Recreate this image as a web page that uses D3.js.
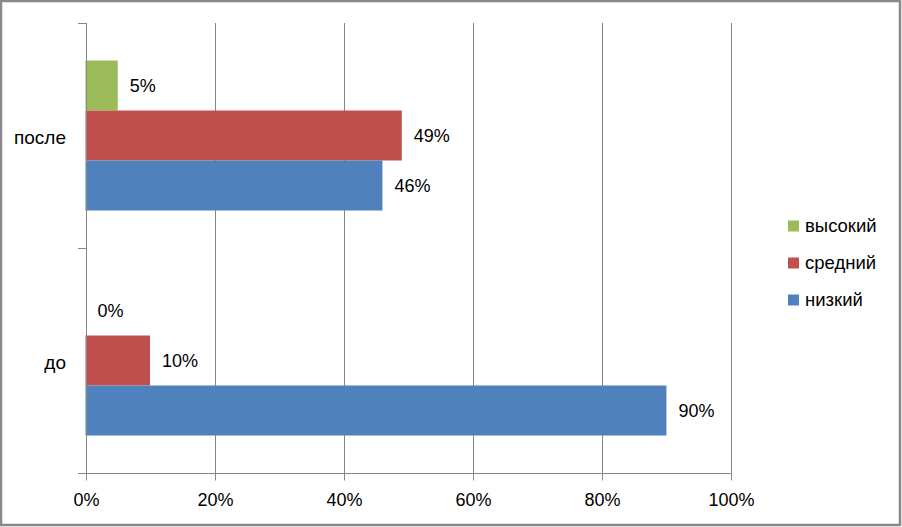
<!DOCTYPE html>
<html>
<head>
<meta charset="utf-8">
<script src="https://cdn.jsdelivr.net/npm/d3@7"></script>
<style>
  html, body { margin: 0; padding: 0; background: #fff; }
  svg { display: block; }
  text { font-family: "Liberation Sans", Arial, sans-serif; fill: #000; }
</style>
</head>
<body>
<svg id="chart" width="902" height="527"></svg>
<script>
const categories = ["после", "до"];
const seriesNames = ["высокий", "средний", "низкий"];
const seriesColors = ["#9BBB59", "#C0504D", "#4F81BD"];
const highValues = [0.05, 0.00];
const midValues = [0.49, 0.10];
const lowValues = [0.46, 0.90];
const xTicks = [0, 0.2, 0.4, 0.6, 0.8, 1.0];

const seriesValues = [highValues, midValues, lowValues];

const svg = d3.select("#chart");
const W = 902, H = 527;

// outer border
svg.append("rect")
  .attr("x", 1).attr("y", 1).attr("width", W - 3).attr("height", H - 3)
  .attr("fill", "#fff").attr("stroke", "#898989").attr("stroke-width", 2.5);

const x = d3.scaleLinear().domain([0, 1]).range([85.5, 731]);
const y = d3.scaleBand().domain(categories).range([23, 473]).padding(0);
const yInner = d3.scaleBand().domain(seriesNames).range([0, y.bandwidth()])
  .paddingInner(0).paddingOuter(0.75);

const gridColor = "#868686";

// vertical gridlines
svg.append("g").selectAll("line").data(xTicks.slice(1)).join("line")
  .attr("x1", d => Math.round(x(d)) + 0.5).attr("x2", d => Math.round(x(d)) + 0.5)
  .attr("y1", y.range()[0]).attr("y2", y.range()[1])
  .attr("stroke", gridColor).attr("stroke-width", 1);

// bars
const flat = [];
categories.forEach((c, ci) => {
  seriesNames.forEach((s, si) => {
    flat.push({ cat: c, series: s, value: seriesValues[si][ci], color: seriesColors[si] });
  });
});

svg.append("g").selectAll("rect").data(flat).join("rect")
  .attr("x", x(0))
  .attr("y", d => y(d.cat) + yInner(d.series))
  .attr("width", d => x(d.value) - x(0))
  .attr("height", yInner.bandwidth())
  .attr("fill", d => d.color);

// data labels
svg.append("g").selectAll("text").data(flat).join("text")
  .attr("x", d => x(d.value) + 12)
  .attr("y", d => y(d.cat) + yInner(d.series) + yInner.bandwidth() / 2 + 1.5)
  .attr("dominant-baseline", "middle")
  .attr("font-size", "18px")
  .text(d => d3.format(".0%")(d.value));

// x axis
const xAxis = d3.axisBottom(x).tickValues(xTicks).tickFormat(d3.format(".0%"))
  .tickSize(7).tickPadding(13);
const gx = svg.append("g").attr("transform", `translate(0.5,${y.range()[1] + 0.5})`).call(xAxis);
gx.select(".domain").remove();
gx.selectAll(".tick line").attr("stroke", gridColor);
gx.selectAll(".tick").attr("transform", d => `translate(${Math.round(x(d))},0)`);
gx.selectAll(".tick text").attr("font-size", "18px").attr("font-family", "Liberation Sans, Arial, sans-serif");
gx.append("line").attr("x1", 78 - 0.5).attr("x2", Math.round(x(1))).attr("y1", 0).attr("y2", 0)
  .attr("stroke", gridColor);

// y axis line
svg.append("line")
  .attr("x1", Math.round(x(0)) + 0.5).attr("x2", Math.round(x(0)) + 0.5)
  .attr("y1", y.range()[0]).attr("y2", y.range()[1])
  .attr("stroke", gridColor);

// category boundary ticks
const boundaries = categories.map(c => y(c)).concat([y.range()[1]]);
svg.append("g").selectAll("line").data(boundaries).join("line")
  .attr("x1", 78).attr("x2", Math.round(x(0)))
  .attr("y1", d => Math.round(d) + 0.5).attr("y2", d => Math.round(d) + 0.5)
  .attr("stroke", gridColor);

// category labels
const yAxis = d3.axisLeft(y).tickSize(0).tickPadding(0);
const gy = svg.append("g").attr("transform", `translate(66,2)`).call(yAxis);
gy.select(".domain").remove();
gy.selectAll(".tick text").attr("font-size", "19px").attr("font-family", "Liberation Sans, Arial, sans-serif").attr("fill", "#000");

// legend
const legendY = d3.scalePoint().domain(seriesNames).range([226, 300]);
const lg = svg.append("g").selectAll("g").data(seriesNames).join("g")
  .attr("transform", d => `translate(788,${legendY(d)})`);
lg.append("rect").attr("x", 0).attr("y", -5.5).attr("width", 11).attr("height", 11)
  .attr("fill", (d, i) => seriesColors[i]);
lg.append("text").attr("x", 17).attr("y", 1).attr("dominant-baseline", "middle")
  .attr("font-size", "18.5px").text(d => d);
</script>
</body>
</html>
